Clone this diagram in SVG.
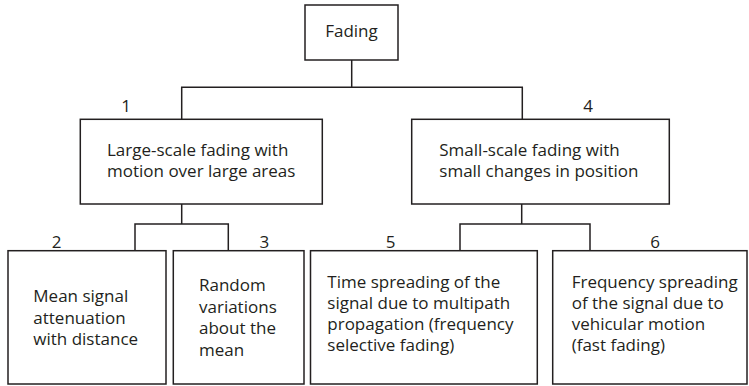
<svg xmlns="http://www.w3.org/2000/svg" width="749" height="386" viewBox="0 0 749 386">
<style>
rect{fill:#fff;stroke:#231f20;stroke-width:1.5}
.c path{fill:none;stroke:#231f20;stroke-width:1.5}
text{font-family:"Open Sans","Noto Sans",sans-serif;font-size:17px;fill:#231f20}
</style>
<rect x="0" y="0" width="749" height="386" style="stroke:none"/>
<g class="c" id="connectors">
<path d="M351.7 60V87.3M181.7 119.3V87.3H522.3V119.3"/>
<path d="M181.7 204V224M135 250.7V224H228.3V250.7"/>
<path d="M521.7 204V224M460 250.7V224H590V250.7"/>
</g>
<g id="n0"><rect x="305" y="5" width="93" height="55"/><text x="351.5" y="37" text-anchor="middle">Fading</text></g>
<g id="n1"><rect x="80.3" y="119.3" width="242" height="84.7"/><text x="126" y="112" text-anchor="middle">1</text>
<text x="107" y="156.3"><tspan x="107">Large-scale fading with</tspan><tspan x="107" dy="21">motion over large areas</tspan></text></g>
<g id="n4"><rect x="411.7" y="119.3" width="257.6" height="84.7"/><text x="588" y="112" text-anchor="middle">4</text>
<text x="439.3" y="156.3"><tspan x="439.3">Small-scale fading with</tspan><tspan x="439.3" dy="21">small changes in position</tspan></text></g>
<g id="n2"><rect x="8" y="250.7" width="158" height="133.3"/><text x="56.7" y="248.3" text-anchor="middle">2</text>
<text x="33.3" y="302"><tspan x="33.3">Mean signal</tspan><tspan x="33.3" dy="21.7">attenuation</tspan><tspan x="33.3" dy="21.7">with distance</tspan></text></g>
<g id="n3"><rect x="173.3" y="250.7" width="130.7" height="133.3"/><text x="264.3" y="248.3" text-anchor="middle">3</text>
<text x="199" y="291"><tspan x="199">Random</tspan><tspan x="199" dy="21.7">variations</tspan><tspan x="199" dy="21.7">about the</tspan><tspan x="199" dy="21.7">mean</tspan></text></g>
<g id="n5"><rect x="310.5" y="250.7" width="226.8" height="133.3"/><text x="390.7" y="248.3" text-anchor="middle">5</text>
<text x="327.3" y="288.3"><tspan x="327.3">Time spreading of the</tspan><tspan x="327.3" dy="21">signal due to multipath</tspan><tspan x="327.3" dy="21">propagation (frequency</tspan><tspan x="327.3" dy="21">selective fading)</tspan></text></g>
<g id="n6"><rect x="552.7" y="250.7" width="194.3" height="133.3"/><text x="655" y="248.3" text-anchor="middle">6</text>
<text x="571.7" y="288.3"><tspan x="571.7">Frequency spreading</tspan><tspan x="571.7" dy="21">of the signal due to</tspan><tspan x="571.7" dy="21">vehicular motion</tspan><tspan x="571.7" dy="21">(fast fading)</tspan></text></g>
</svg>
